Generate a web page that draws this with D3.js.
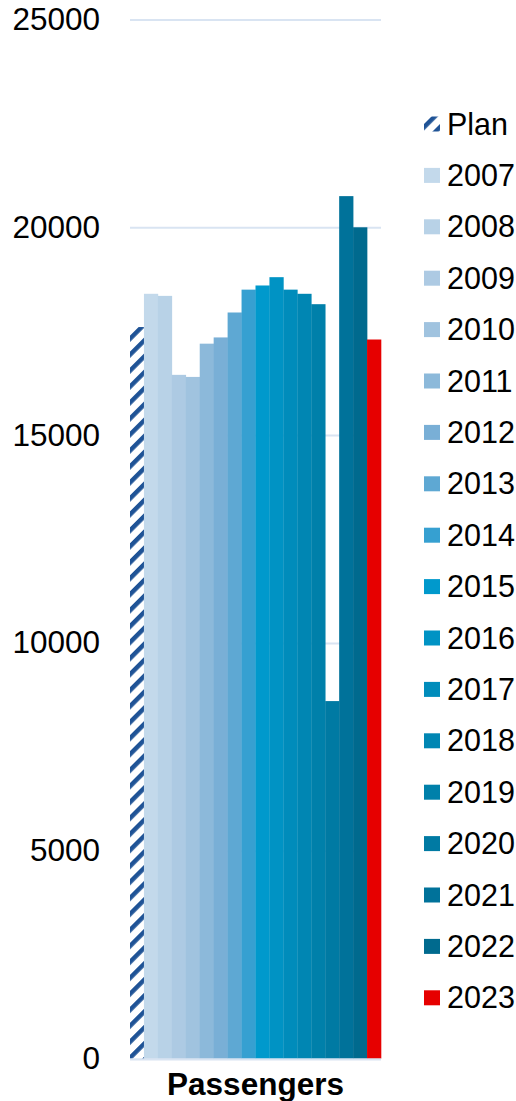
<!DOCTYPE html>
<html>
<head>
<meta charset="utf-8">
<script src="https://cdn.jsdelivr.net/npm/d3@7"></script>
<style>
  html, body { margin: 0; padding: 0; background: #fff; }
  svg { display: block; font-family: "Liberation Sans", Arial, sans-serif; }
</style>
</head>
<body>
<svg id="chart" width="516" height="1101"></svg>
<script>
// Passenger numbers: plan value plus yearly actuals
const categories = ["Passengers"];
const seriesNames = ["Plan", "2007", "2008", "2009", "2010", "2011", "2012", "2013", "2014",
  "2015", "2016", "2017", "2018", "2019", "2020", "2021", "2022", "2023"];
const seriesValues = [17600, 18400, 18350, 16450, 16400, 17200, 17350, 17950, 18500,
  18600, 18800, 18500, 18400, 18150, 8600, 20750, 20000, 17300];
const seriesColors = ["url(#planHatch)", "#c3d9eb", "#b8d2e7", "#adcae3", "#a0c3df", "#8cb9da",
  "#79afd6", "#5ea8d3", "#36a0d1", "#0099cc", "#0093c4", "#008cbb", "#0086b3", "#0080aa",
  "#007aa3", "#00729a", "#006a8e", "#e60000"];
const yTicks = [0, 5000, 10000, 15000, 20000, 25000];

const svg = d3.select("#chart");
const margin = { left: 130, top: 19.5 };
const plotW = 381 - margin.left;
const y0 = 1058.5;

// Diagonal hatch used for the plan bar
const defs = svg.append("defs");
defs.append("pattern")
  .attr("id", "planHatch")
  .attr("patternUnits", "userSpaceOnUse")
  .attr("width", 11.3).attr("height", 11.3)
  .attr("patternTransform", "rotate(45)")
  .call(p => {
    p.append("rect").attr("width", 11.3).attr("height", 11.3).attr("fill", "#fff");
    p.append("rect").attr("width", 4.5).attr("height", 11.3).attr("fill", "#1f5396");
  });

const x = d3.scaleBand().domain(categories).range([margin.left, margin.left + plotW]).padding(0);
const xs = d3.scaleBand().domain(seriesNames).range([0, x.bandwidth()]).padding(0);
const y = d3.scaleLinear().domain([0, 25000]).range([y0, margin.top]);

// Gridlines
svg.append("g")
  .attr("transform", `translate(${margin.left},0)`)
  .call(d3.axisLeft(y).tickValues(yTicks).tickSize(-plotW).tickFormat(""))
  .call(g => g.select(".domain").remove())
  .call(g => g.selectAll("line").attr("stroke", "#d9e4f2").attr("stroke-width", 2));

// Tick labels
svg.append("g")
  .attr("transform", `translate(${margin.left},0)`)
  .call(d3.axisLeft(y).tickValues(yTicks).tickSize(0).tickPadding(30).tickFormat(d3.format("d")))
  .call(g => g.select(".domain").remove())
  .call(g => g.selectAll("text")
    .attr("font-size", 31.5).attr("fill", "#000")
    .attr("font-family", "'Liberation Sans', Arial, sans-serif"));

// Bars
const group = svg.append("g").selectAll("g").data(categories).join("g")
  .attr("transform", d => `translate(${x(d)},0)`);
group.selectAll("rect")
  .data(seriesNames.map((n, i) => ({ name: n, value: seriesValues[i], color: seriesColors[i] })))
  .join("rect")
  .attr("x", d => xs(d.name))
  .attr("width", xs.bandwidth() + 0.3)
  .attr("y", d => y(d.value))
  .attr("height", d => y(0) - y(d.value))
  .attr("fill", d => d.color);

// Category axis line and label
svg.append("line")
  .attr("x1", margin.left).attr("x2", margin.left + plotW)
  .attr("y1", y0 + 1).attr("y2", y0 + 1)
  .attr("stroke", "#d9e4f2").attr("stroke-width", 2);
svg.append("g")
  .attr("transform", `translate(0,${y0})`)
  .call(d3.axisBottom(x).tickSize(0).tickPadding(14))
  .call(g => g.select(".domain").remove())
  .call(g => g.selectAll("text")
    .attr("font-size", 31.5).attr("font-weight", "bold").attr("fill", "#000")
    .attr("font-family", "'Liberation Sans', Arial, sans-serif"));

// Legend
const legend = svg.append("g").attr("transform", "translate(424,0)");
const rows = legend.selectAll("g")
  .data(seriesNames.map((n, i) => ({ name: n, color: seriesColors[i] })))
  .join("g")
  .attr("transform", (d, i) => `translate(0,${124 + i * 51.4})`);
rows.append("rect")
  .attr("x", 0).attr("y", -7.5).attr("width", 16).attr("height", 15)
  .attr("fill", d => d.color);
rows.append("text")
  .attr("x", 23).attr("y", 0).attr("dy", "0.35em")
  .attr("font-size", 30.5).attr("fill", "#000")
  .text(d => d.name);
</script>
</body>
</html>
